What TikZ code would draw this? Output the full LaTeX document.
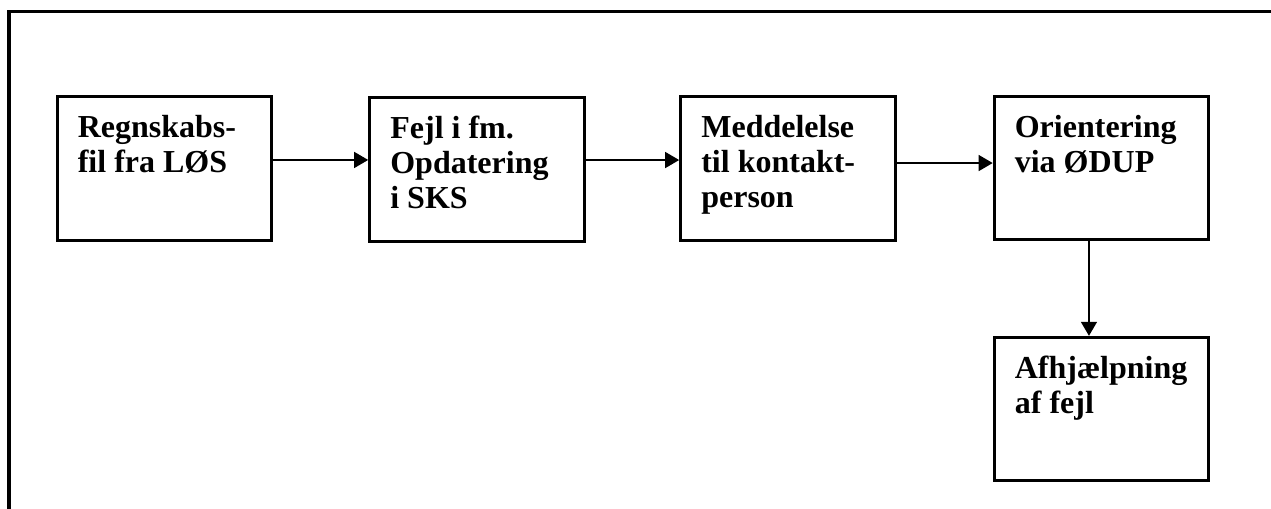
\documentclass[tikz,border=0pt]{standalone}
\usepackage{fontspec}
\setmainfont{Liberation Serif}
\usetikzlibrary{arrows.meta}
\tikzset{
  x=0.75pt, y=-0.75pt,
  stepbox/.style={draw, line width=2.25pt, inner xsep=15.5pt, inner ysep=0pt,
    font=\bfseries\fontsize{24}{26.2}\selectfont},
  flow/.style={line width=1pt, -{Triangle[length=10.5pt,width=12pt]}},
  frame/.style={line width=2.6pt}
}
\newcommand{\boxtext}[1]{\parbox[c][107.5pt][t]{130pt}{\raggedright\rule{0pt}{30.6pt}#1}}
\begin{document}
\begin{tikzpicture}
\useasboundingbox (0,0) rectangle (1271,509);
\draw[frame] (9,515) -- (9,11.5) -- (1278,11.5);
\node[stepbox] (b1) at (164.5,168.5) {\boxtext{Regnskabs-\\fil fra LØS}};
\node[stepbox] (b2) at (477,169.5) {\boxtext{Fejl i fm.\\Opdatering\\i SKS}};
\node[stepbox] (b3) at (788,168.5) {\boxtext{Meddelelse\\til kontakt-\\person}};
\node[stepbox] (b4) at (1101.5,168) {\boxtext{Orientering\\via ØDUP}};
\node[stepbox] (b5) at (1101.5,409) {\boxtext{Afhjælpning\\af fejl}};
\draw[flow] ([yshift=6.4pt]b1.east) -- ([yshift=6.4pt]b1.east -| b2.west);
\draw[flow] ([yshift=7.1pt]b2.east) -- ([yshift=7.1pt]b2.east -| b3.west);
\draw[flow] ([yshift=4.1pt]b3.east) -- ([yshift=4.1pt]b3.east -| b4.west);
\draw[flow] ([xshift=-9.4pt]b4.south) -- ([xshift=-9.4pt]b5.north);
\end{tikzpicture}
\end{document}
